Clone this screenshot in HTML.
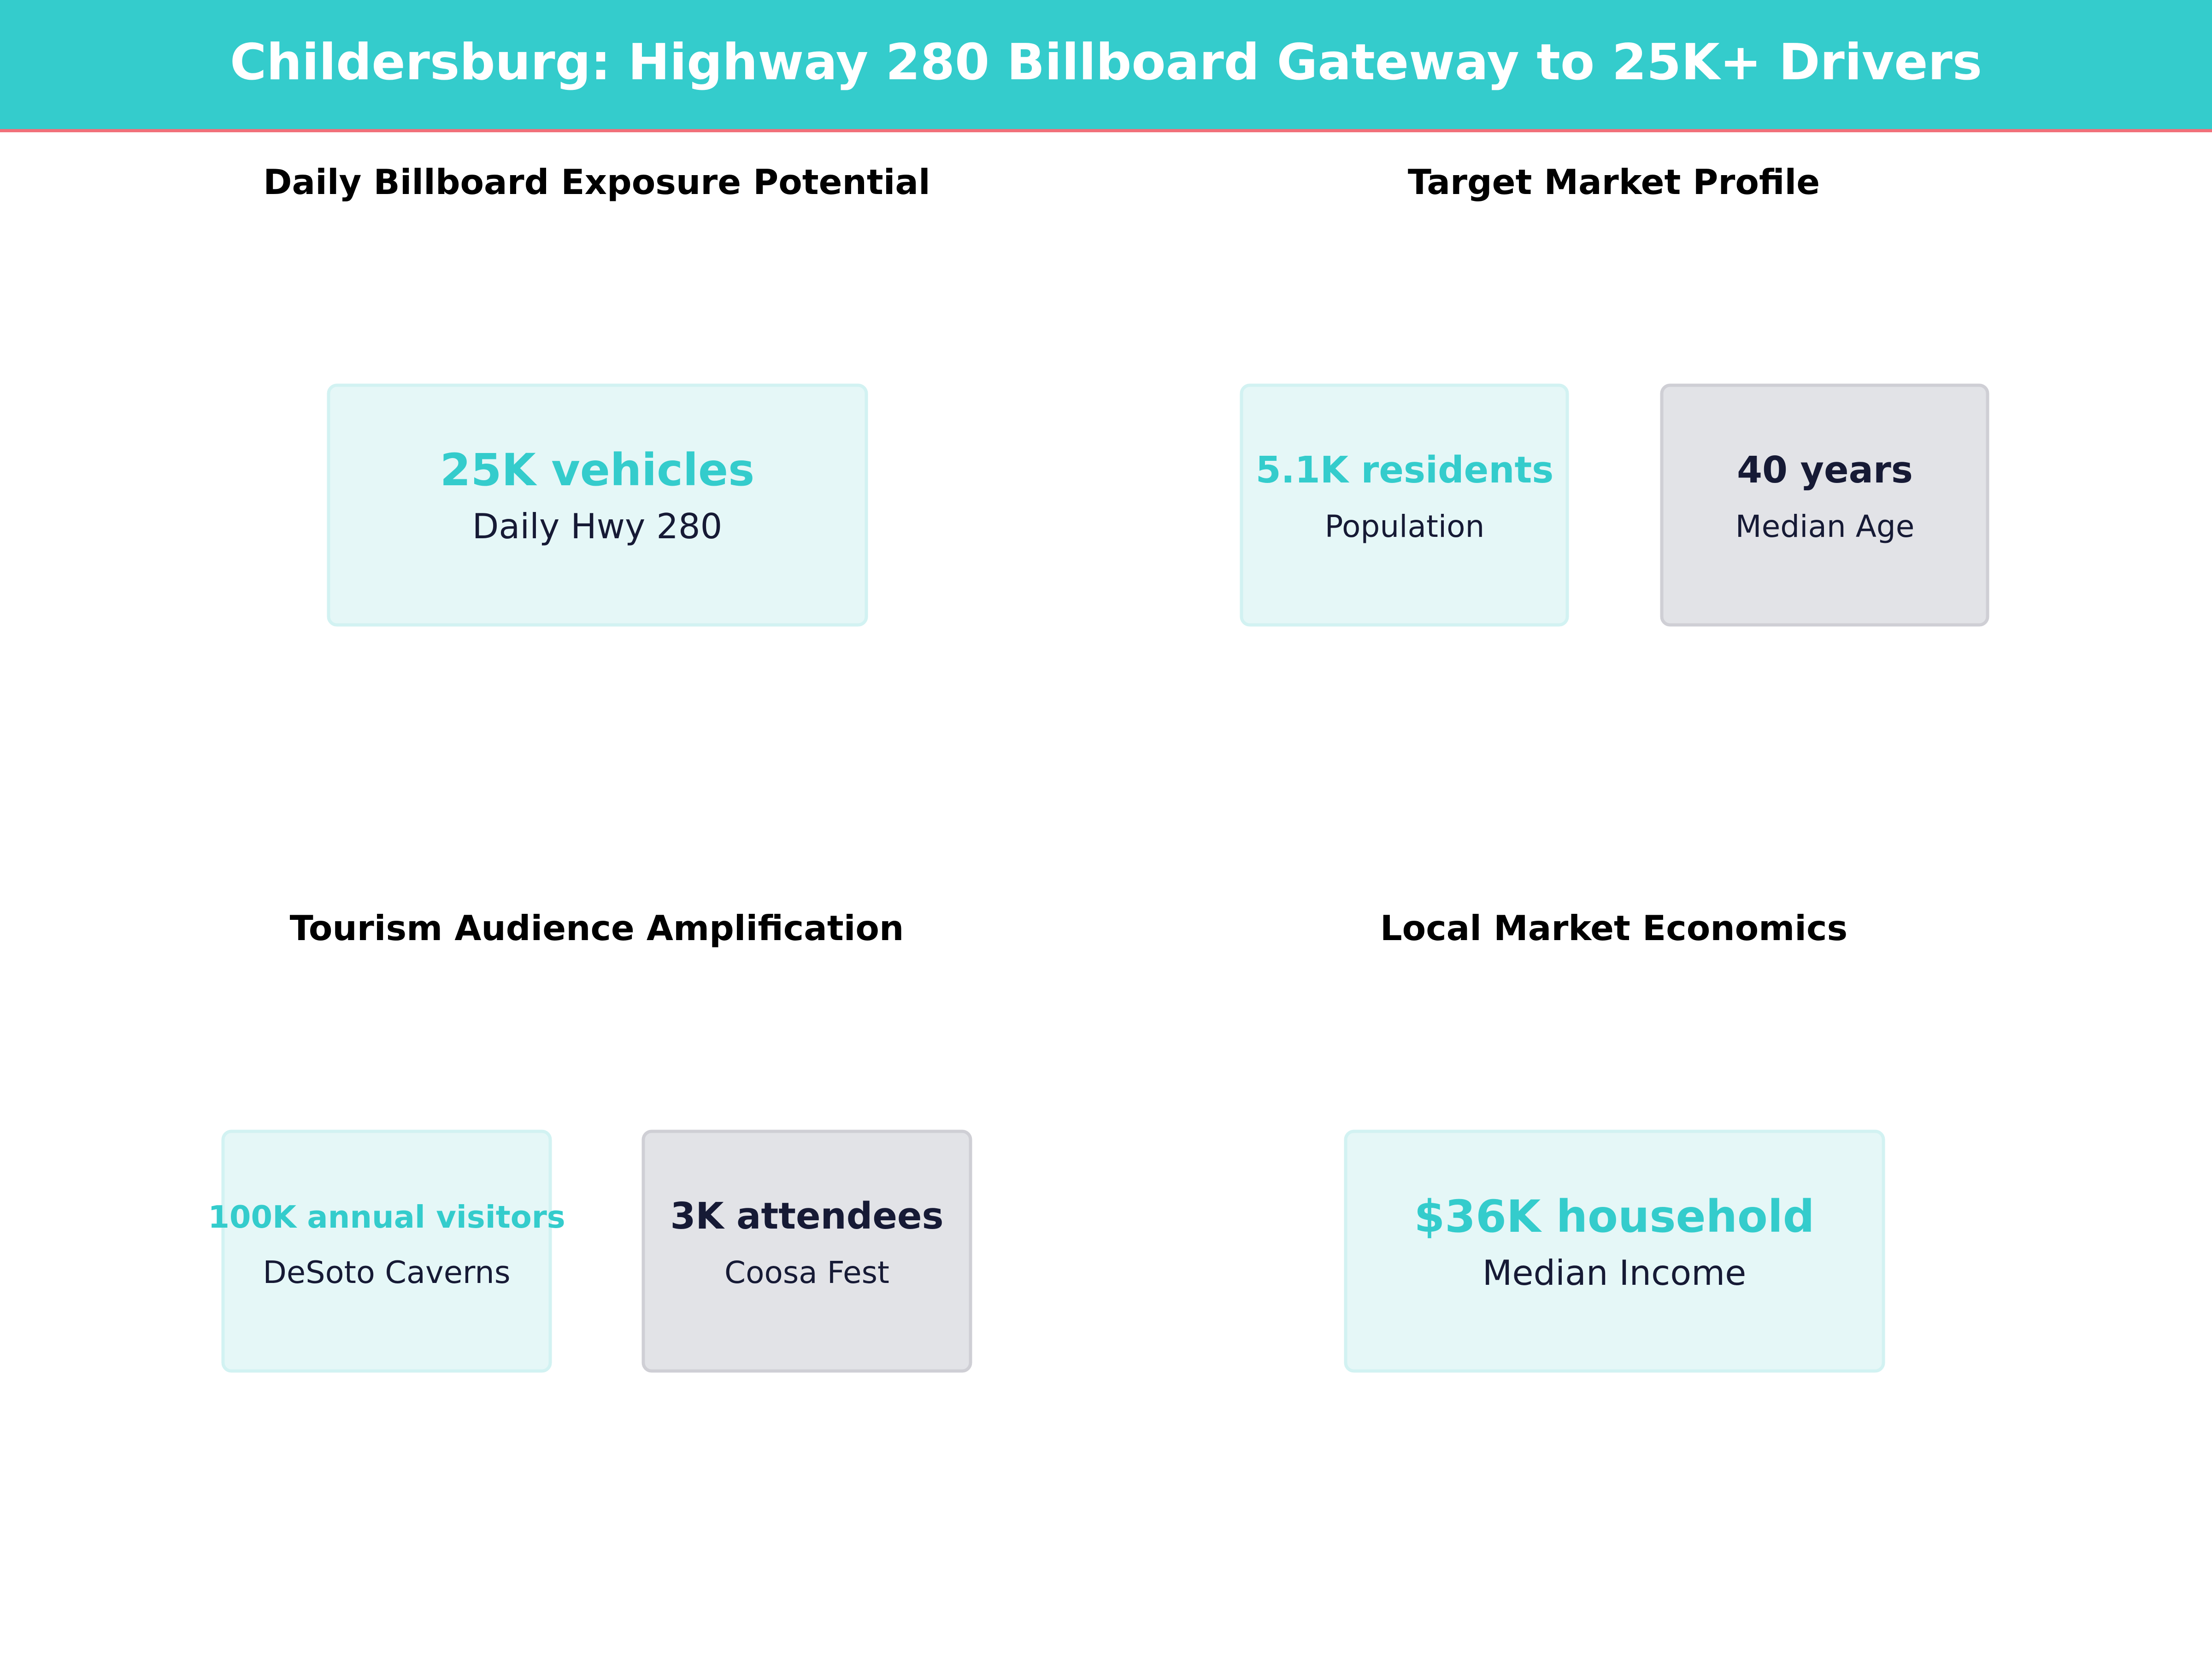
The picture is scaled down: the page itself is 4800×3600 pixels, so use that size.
<!DOCTYPE html>
<html><head><meta charset="utf-8"><style>
html,body{margin:0;padding:0;background:#fff;}
svg{display:block;}
text{font-family:"DejaVu Sans","Liberation Sans",sans-serif;}
</style></head><body>
<svg width="4800" height="3600" viewBox="0 0 4800 3600" xmlns="http://www.w3.org/2000/svg">
<rect x="0" y="0" width="4800" height="3600" fill="#ffffff"/>
<rect x="0" y="0" width="4800" height="282" fill="#34CCCC"/>
<rect x="0" y="280" width="4800" height="7" fill="#F0707A"/>
<text x="2400" y="172" font-size="108" font-weight="bold" fill="#ffffff" text-anchor="middle">Childersburg: Highway 280 Billboard Gateway to 25K+ Drivers</text>

<g font-weight="bold" font-size="75" fill="#000" text-anchor="middle">
<text x="1295" y="421">Daily Billboard Exposure Potential</text>
<text x="3502" y="421">Target Market Profile</text>
<text x="1295" y="2040">Tourism Audience Amplification</text>
<text x="3502" y="2040">Local Market Economics</text>
</g>

<g stroke-width="7">
<rect x="713" y="836" width="1167" height="520" rx="18" fill="#E5F7F7" stroke="#D2F2F2"/>
<rect x="2694" y="836" width="707" height="520" rx="18" fill="#E5F7F7" stroke="#D2F2F2"/>
<rect x="3606" y="836" width="707" height="520" rx="18" fill="#E2E3E7" stroke="#CFCFD5"/>
<rect x="484" y="2455" width="710" height="520" rx="18" fill="#E5F7F7" stroke="#D2F2F2"/>
<rect x="1396" y="2455" width="710" height="520" rx="18" fill="#E2E3E7" stroke="#CFCFD5"/>
<rect x="2920" y="2455" width="1167" height="520" rx="18" fill="#E5F7F7" stroke="#D2F2F2"/>
</g>

<g text-anchor="middle">
<text x="1296" y="1053" font-size="96" font-weight="bold" fill="#34CCCC">25K vehicles</text>
<text x="1296" y="1168" font-size="75" fill="#161a35">Daily Hwy 280</text>

<text x="3048" y="1047" font-size="79" font-weight="bold" fill="#34CCCC">5.1K residents</text>
<text x="3048" y="1165" font-size="66" fill="#161a35">Population</text>
<text x="3960" y="1047" font-size="79" font-weight="bold" fill="#161a35">40 years</text>
<text x="3960" y="1165" font-size="66" fill="#161a35">Median Age</text>

<text x="839" y="2664" font-size="67" font-weight="bold" fill="#34CCCC">100K annual visitors</text>
<text x="839" y="2784" font-size="67" fill="#161a35">DeSoto Caverns</text>
<text x="1751" y="2666" font-size="79" font-weight="bold" fill="#161a35">3K attendees</text>
<text x="1751" y="2784" font-size="66" fill="#161a35">Coosa Fest</text>

<text x="3503" y="2673" font-size="96" font-weight="bold" fill="#34CCCC">$36K household</text>
<text x="3503" y="2788" font-size="75" fill="#161a35">Median Income</text>
</g>
</svg>
</body></html>
